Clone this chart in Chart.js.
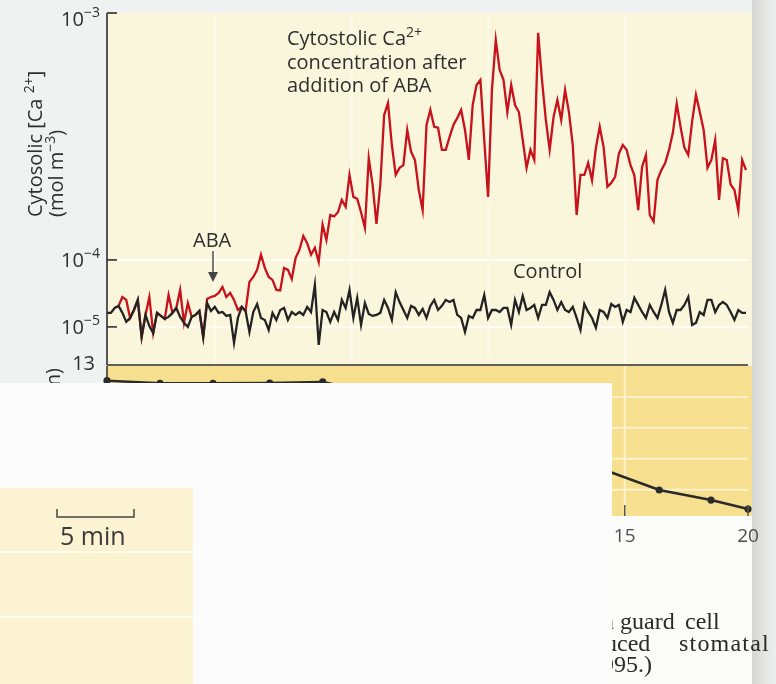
<!DOCTYPE html>
<html>
<head>
<meta charset="utf-8">
<script src="https://cdn.jsdelivr.net/npm/chart.js@4.4.1/dist/chart.umd.min.js"></script>
<style>
  html, body { margin: 0; padding: 0; background: #eef2f1; }
  #wrap { position: relative; width: 776px; height: 684px; overflow: hidden; background: #eef2f1; }
  canvas { position: absolute; left: 0; }
  #top { top: 0; }
  #bot { top: 352px; }
  .occ { position: absolute; background: #fbfcfb; }
</style>
</head>
<body>
<div id="wrap">
  <canvas id="top" width="776" height="366"></canvas>
  <canvas id="bot" width="776" height="332"></canvas>
  <div class="occ" style="left:0;top:383px;width:612px;height:105px"></div>
  <div class="occ" style="left:193px;top:488px;width:419px;height:196px"></div>
</div>
<script>
// ---------------- DATA ----------------
// Top panel: cytosolic Ca2+ sampled every 0.25 min, values in units of 1e-5 mol m^-3
const sampleStepMin = 0.25;
const controlCa = [
  1.62,1.62,1.92,2.06,1.62,1.19,1.36,1.79,2.53,0.71,
  1.51,1.03,0.81,1.62,1.46,1.32,1.41,1.62,1.92,1.41,
  1.15,1.00,1.41,1.51,1.73,0.71,2.28,1.73,1.99,1.62,
  1.67,1.46,1.51,0.58,1.36,1.99,1.73,0.84,1.67,2.20,
  1.36,1.27,0.90,1.62,1.27,1.79,1.92,1.27,1.67,1.51,
  1.67,1.51,1.99,1.67,4.24,0.54,1.79,1.67,1.19,1.67,
  1.27,2.53,1.92,3.57,1.36,2.71,1.07,2.28,1.56,1.46,
  1.51,1.62,2.53,1.92,1.27,3.30,2.35,1.79,1.36,2.06,
  1.92,1.51,1.86,1.36,2.06,2.53,1.79,2.06,2.53,2.35,
  2.53,1.51,1.36,0.84,1.46,1.36,1.79,1.79,3.00,1.36,
  1.79,1.79,1.67,1.92,1.92,1.07,2.53,1.67,2.90,1.79,
  1.92,2.13,1.36,2.13,2.13,3.30,2.53,1.79,2.35,1.79,
  1.67,1.99,1.36,0.90,2.20,1.67,1.36,0.97,1.79,1.67,
  1.36,2.20,1.99,2.13,1.19,1.79,1.67,2.71,2.13,1.67,
  1.36,2.13,1.67,1.36,2.13,3.57,1.67,1.15,1.79,1.79,
  2.13,2.80,1.07,1.15,1.67,1.51,2.53,2.53,1.67,2.13,
  2.35,2.13,1.67,1.27,1.79,1.62,1.62
];
const abaCa = [
  null,null,null,2.06,2.80,2.53,1.36,1.79,2.53,0.71,
  1.51,2.80,0.81,1.62,1.46,1.32,3.00,1.62,1.92,3.57,
  1.15,2.28,1.41,1.51,1.73,0.71,2.62,2.80,2.90,3.22,
  3.95,2.80,3.22,2.53,1.79,1.99,1.73,4.70,5.57,7.10,
  10.5,7.60,5.57,5.03,3.57,3.50,7.60,7.10,5.20,10.2,
  11.0,12.5,11.7,10.5,11.2,9.30,13.9,12.05,15.2,15.0,
  15.6,17.5,16.4,22.1,18.0,17.7,15.6,13.5,25.8,20.2,
  14.0,20.2,38.6,43.2,29.2,22.1,23.6,24.2,33.6,27.4,
  25.4,19.2,15.9,35.2,40.5,34.6,34.3,27.9,27.9,31.5,
  35.2,37.6,40.5,33.6,25.4,42.4,51.1,53.6,30.6,18.0,
  48.8,77.8,58.8,53.6,39.7,51.1,42.4,39.7,30.6,23.6,
  27.9,25.4,83.1,53.6,36.9,27.9,37.9,44.4,36.9,48.8,
  39.7,29.2,15.2,22.1,22.1,24.7,21.0,28.4,34.6,28.7,
  19.8,20.5,21.7,27.0,29.2,27.9,24.2,22.0,15.9,23.8,
  26.6,15.2,14.3,21.1,23.1,24.7,27.9,32.7,43.0,34.6,
  28.5,26.6,36.3,46.6,39.7,33.6,23.6,25.4,30.6,17.5,
  25.8,25.4,20.2,19.2,15.9,25.4,23.1
];
const yTickConc = [1e-3, 1e-4, 1e-5];
const yTickExp = ['\u22123', '\u22124', '\u22125'];
const paperGridMin = [7.0, 15.9, 24.75, 33.65];

// Bottom panel: stomatal aperture (µm) vs time (min)
const apertureMin = [-6.0, -3.85, -1.7, 0.6, 2.75, 5.0, 7.2, 9.4, 11.6, 13.8, 16.4, 18.5, 20.0];
const aperture   = [12.05, 11.88, 11.88, 11.9, 11.97, 11.2, 10.2, 9.0, 7.8, 6.5, 4.98, 4.33, 3.75];
const bottomXTicks = [15, 20];
const bottomYTopLabel = 13;
const bottomGridY = [5, 7, 9, 11];

// ---------------- helpers ----------------
const SANS = "'Open Sans', 'DejaVu Sans', sans-serif";
const SERIF = "'Liberation Serif', 'DejaVu Serif', serif";
const INK = '#2e2e2e';
// Figure's y axis: 1e-5..1e-4 takes one unit, 1e-4..1e-3 is stretched
const UPPER_STRETCH = 247 / 67;
function axisU(v) {
  const L = Math.log10(v);
  return L <= -4 ? L + 5 : 1 + (L + 4) * UPPER_STRETCH;
}
function seg(ctx, x1, y1, x2, y2) { ctx.beginPath(); ctx.moveTo(x1, y1); ctx.lineTo(x2, y2); ctx.stroke(); }
function drawRuns(ctx, runs, x, y, align, family) {
  const fam = family || SANS;
  let w = 0;
  for (const r of runs) { ctx.font = r[1] + 'px ' + fam; w += ctx.measureText(r[0]).width; }
  let cx = align === 'right' ? x - w : (align === 'center' ? x - w / 2 : x);
  ctx.textAlign = 'left'; ctx.textBaseline = 'alphabetic';
  for (const r of runs) {
    ctx.font = r[1] + 'px ' + fam;
    ctx.fillText(r[0], cx, y - (r[2] || 0));
    cx += ctx.measureText(r[0]).width;
  }
}
function gutter(ctx, h) {
  const g = ctx.createLinearGradient(752, 0, 776, 0);
  g.addColorStop(0, '#d5d6d4'); g.addColorStop(0.45, '#e2e3e1'); g.addColorStop(1, '#eef0ef');
  ctx.fillStyle = g; ctx.fillRect(752, 0, 24, h);
}

// ---------------- top chart ----------------
const topDecor = {
  id: 'topDecor',
  beforeDatasetsDraw(chart) {
    const { ctx, chartArea: a, scales: { x, y } } = chart;
    ctx.save();
    ctx.fillStyle = '#faf6dc';
    ctx.fillRect(a.left, a.top, a.right - a.left + 4, a.bottom - a.top);
    gutter(ctx, chart.height);
    ctx.strokeStyle = 'rgba(255,255,255,0.8)'; ctx.lineWidth = 2;
    for (const v of yTickConc.slice(1)) { const py = y.getPixelForValue(axisU(v)); seg(ctx, a.left, py, a.right, py); }
    ctx.strokeStyle = 'rgba(255,255,255,0.6)'; ctx.lineWidth = 1.5;
    for (const t of paperGridMin) { const px = x.getPixelForValue(t); seg(ctx, px, a.top, px, a.bottom); }
    ctx.restore();
  },
  afterDatasetsDraw(chart) {
    const { ctx, chartArea: a, scales: { x, y } } = chart;
    ctx.save();
    ctx.strokeStyle = INK; ctx.fillStyle = INK; ctx.lineWidth = 1.6;
    seg(ctx, a.left, a.top, a.left, a.bottom);
    seg(ctx, a.left, a.bottom, a.right, a.bottom);
    yTickConc.forEach((v, k) => {
      const py = y.getPixelForValue(axisU(v));
      seg(ctx, a.left, py, a.left + 10, py);
      drawRuns(ctx, [['10', 20, 0], [yTickExp[k], 14, 9]], 100, Math.max(py + 7, 26), 'right');
    });
    // y-axis title (rotated)
    ctx.save(); ctx.translate(42, 217); ctx.rotate(-Math.PI / 2);
    drawRuns(ctx, [['Cytosolic [Ca ', 20, 0], ['2+', 14, 8], [']', 20, 0]], 0, 0, 'left');
    ctx.restore();
    ctx.save(); ctx.translate(63, 217); ctx.rotate(-Math.PI / 2);
    drawRuns(ctx, [['(mol m', 20, 0], ['\u22123', 14, 8], [')', 20, 0]], 0, 0, 'left');
    ctx.restore();
    // annotations
    drawRuns(ctx, [['Cytostolic Ca', 20, 0], ['2+', 14, 8]], 287, 45, 'left');
    drawRuns(ctx, [['concentration after', 20, 0]], 287, 68.5, 'left');
    drawRuns(ctx, [['addition of ABA', 20, 0]], 287, 92, 'left');
    drawRuns(ctx, [['Control', 20, 0]], 513, 278, 'left');
    drawRuns(ctx, [['ABA', 20, 0]], 193, 247, 'left');
    // arrow at ABA addition
    ctx.strokeStyle = '#444'; ctx.fillStyle = '#444'; ctx.lineWidth = 1.4;
    seg(ctx, 213, 251, 213, 276);
    ctx.beginPath(); ctx.moveTo(208, 272); ctx.lineTo(218, 272); ctx.lineTo(213, 282); ctx.closePath(); ctx.fill();
    ctx.restore();
  }
};

const topChart = new Chart(document.getElementById('top'), {
  type: 'line',
  data: {
    datasets: [
      { label: 'Control', data: controlCa.map((v, i) => ({ x: i * sampleStepMin, y: axisU(v * 1e-5) })),
        borderColor: '#232323', borderWidth: 2.3, pointRadius: 0, tension: 0 },
      { label: 'ABA', data: abaCa.map((v, i) => ({ x: i * sampleStepMin, y: v == null ? null : axisU(v * 1e-5) })),
        borderColor: '#c8121b', borderWidth: 2.3, pointRadius: 0, tension: 0, spanGaps: false }
    ]
  },
  options: {
    responsive: false, animation: false, devicePixelRatio: 1, events: [],
    layout: { padding: { left: 107, right: 28, top: 13, bottom: 1 } },
    plugins: { legend: { display: false }, tooltip: { enabled: false } },
    scales: {
      x: { type: 'linear', display: false, min: 0, max: 41.63 },
      y: { type: 'linear', display: false, min: axisU(2.7e-6), max: axisU(1e-3) }
    }
  },
  plugins: [topDecor]
});

// ---------------- bottom chart ----------------
const botDecor = {
  id: 'botDecor',
  beforeDatasetsDraw(chart) {
    const { ctx, chartArea: a, scales: { x, y } } = chart;
    ctx.save();
    ctx.fillStyle = '#f6df8f';
    ctx.fillRect(a.left, a.top, a.right - a.left + 4, a.bottom - a.top);
    ctx.fillStyle = '#fbfbf9';
    ctx.fillRect(612, a.bottom, 164, chart.height - a.bottom);
    gutter(ctx, chart.height);
    ctx.strokeStyle = 'rgba(255,246,214,0.85)'; ctx.lineWidth = 2;
    for (const v of bottomGridY) { const py = y.getPixelForValue(v); seg(ctx, a.left, py, a.right, py); }
    const gx = x.getPixelForValue(bottomXTicks[0]); seg(ctx, gx, a.top, gx, a.bottom);
    ctx.restore();
  },
  afterDatasetsDraw(chart) {
    const { ctx, chartArea: a, scales: { x, y } } = chart;
    ctx.save();
    ctx.strokeStyle = INK; ctx.fillStyle = INK; ctx.lineWidth = 1.5;
    seg(ctx, a.left, a.top, a.left, a.bottom);
    drawRuns(ctx, [[String(bottomYTopLabel), 20, 0]], 95, y.getPixelForValue(bottomYTopLabel) + 4, 'right');
    ctx.save(); ctx.translate(60, 16); ctx.rotate(-Math.PI / 2);
    ctx.font = '20px ' + SANS; ctx.textAlign = 'right'; ctx.textBaseline = 'alphabetic';
    ctx.fillText('Stomatal aperture (\u00b5m)', 0, 0);
    ctx.restore();
    // x ticks and labels
    ctx.strokeStyle = '#555'; ctx.fillStyle = '#4d4d4d';
    for (const t of bottomXTicks) {
      const px = x.getPixelForValue(t);
      seg(ctx, px, a.bottom - 11, px, a.bottom);
      drawRuns(ctx, [[String(t), 19, 0]], px, a.bottom + 26, 'center');
    }
    // fragments of the page caption
    ctx.fillStyle = '#2a2a2a';
    ctx.font = '24px ' + SERIF; ctx.textAlign = 'left'; ctx.textBaseline = 'alphabetic';
    const l1 = a.bottom + 113, l2 = a.bottom + 134.5, l3 = a.bottom + 156;
    ctx.fillText('in', 620 - ctx.measureText('in ').width, l1);
    ctx.fillText('guard', 620, l1);
    ctx.fillText('cell', 685, l1);
    ctx.fillText('ABA-induced', 617 - ctx.measureText('ABA-indu').width, l2);
    ctx.letterSpacing = '1.2px';
    ctx.fillText('stomatal', 679, l2);
    ctx.letterSpacing = '0px';
    ctx.fillText('(After McAinsh et al. 1995.)', 614 - ctx.measureText('(After McAinsh et al. 19').width, l3);

    // visible page patch (drawn last) with the 5-min scale bar of the top panel
    ctx.fillStyle = '#fcf3d3';
    ctx.fillRect(0, 136, 193, chart.height - 136);
    ctx.strokeStyle = 'rgba(255,252,238,0.95)'; ctx.lineWidth = 2;
    seg(ctx, 0, 200, 193, 200); seg(ctx, 0, 265, 193, 265);
    const tx = topChart.scales.x;
    const barLen = tx.getPixelForValue(5) - tx.getPixelForValue(0);
    ctx.strokeStyle = '#444'; ctx.lineWidth = 1.5;
    const by = a.bottom + 1, bx = 57;
    ctx.beginPath(); ctx.moveTo(bx, by - 8); ctx.lineTo(bx, by); ctx.lineTo(bx + barLen, by); ctx.lineTo(bx + barLen, by - 8); ctx.stroke();
    ctx.fillStyle = '#3a3a3a';
    drawRuns(ctx, [['5 min', 25, 0]], 60, a.bottom + 29, 'left');
    ctx.restore();
  }
};

new Chart(document.getElementById('bot'), {
  type: 'line',
  data: {
    datasets: [{
      label: 'Aperture',
      data: apertureMin.map((t, i) => ({ x: t, y: aperture[i] })),
      borderColor: '#2a2a2a', borderWidth: 2.5, tension: 0,
      pointRadius: 3.6, pointBackgroundColor: '#2a2a2a', pointBorderWidth: 0, clip: 8
    }]
  },
  options: {
    responsive: false, animation: false, devicePixelRatio: 1, events: [],
    layout: { padding: { left: 107, right: 28, top: 14, bottom: 168 } },
    plugins: { legend: { display: false }, tooltip: { enabled: false } },
    scales: {
      x: { type: 'linear', display: false, min: -6, max: 20 },
      y: { type: 'linear', display: false, min: 3.3, max: 13 }
    }
  },
  plugins: [botDecor]
});
</script>
</body>
</html>
